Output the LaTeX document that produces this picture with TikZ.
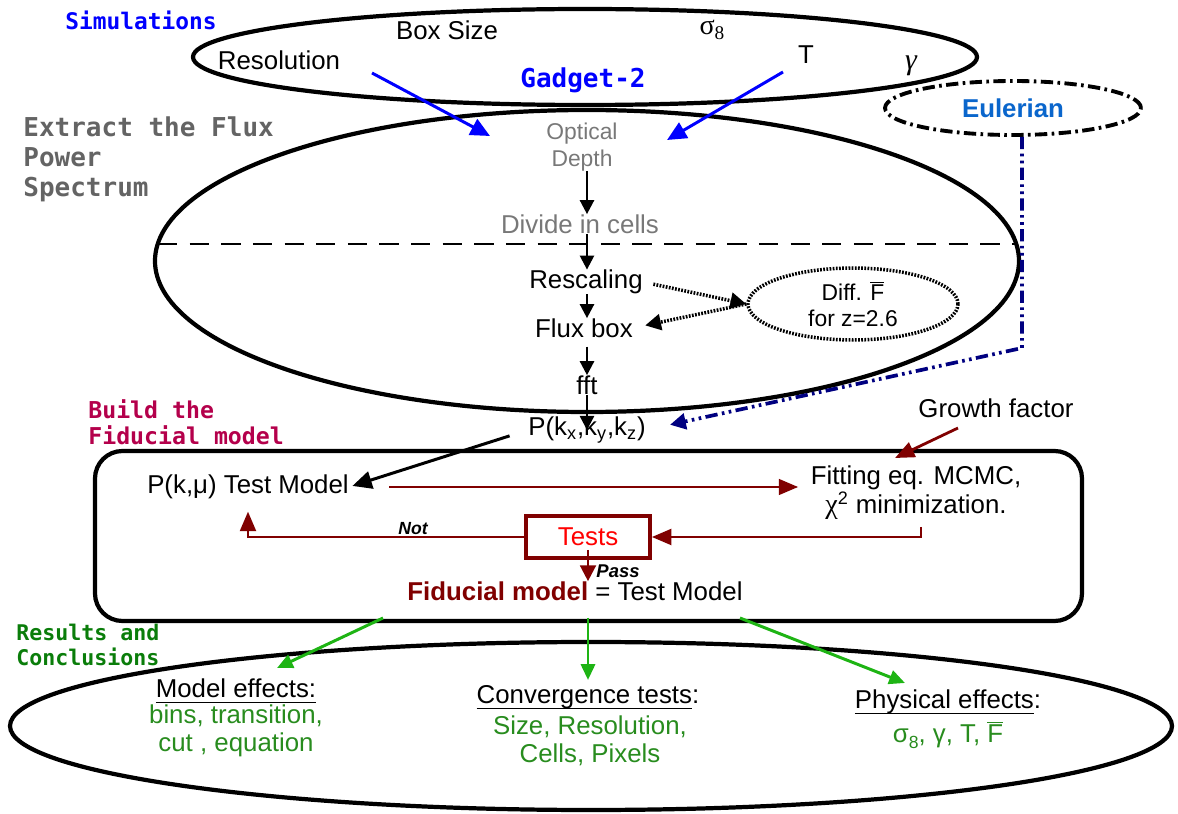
\documentclass[tikz,border=0pt]{standalone}
\usepackage{fontspec}
\setmainfont{Liberation Sans}
\setmonofont{DejaVu Sans Mono}
\newfontfamily\greekserif{Liberation Serif}
\usetikzlibrary{arrows.meta,shapes.geometric}
\definecolor{simblue}{RGB}{0,0,255}
\definecolor{eulblue}{RGB}{10,102,204}
\definecolor{navyline}{RGB}{0,0,128}
\definecolor{darkred}{RGB}{128,0,0}
\definecolor{crimsonlab}{RGB}{180,0,75}
\definecolor{greylab}{RGB}{100,100,100}
\definecolor{midgrey}{RGB}{120,120,120}
\definecolor{resgreen}{RGB}{10,125,10}
\definecolor{txtgreen}{RGB}{40,140,30}
\definecolor{arrgreen}{RGB}{30,180,20}
\newcommand{\Fbar}{$\overline{\hbox{F}}$}
\newcommand{\bigtxt}{\fontsize{14.7}{17}\selectfont}
\newcommand{\smtxt}{\fontsize{13}{15}\selectfont}
\newcommand{\stagefont}[1]{\fontsize{#1}{14.7}\selectfont\ttfamily\bfseries}
\newcommand{\ultext}[1]{\setbox0\hbox{#1}\rlap{\rule[-3.2pt]{\wd0}{0.7pt}}\box0}

\tikzset{
  txt/.style={font=\bigtxt, inner sep=0pt, align=center},
  smalltxt/.style={font=\smtxt, inner sep=0pt, align=center},
  stage/.style={inner sep=0pt, align=left, anchor=west},
  ring/.style={line width=2.4pt},
  bluearr/.style={-{Triangle[length=11pt,width=10pt]}, simblue, line width=1.7pt},
  flowarr/.style={-{Triangle[length=8pt,width=8pt]}, line width=1.4pt},
  dotarr/.style={-{Triangle[length=9pt,width=9pt]}, line width=2pt, dash pattern=on 1pt off 0.8pt},
  redarr/.style={-{Triangle[length=11pt,width=9pt]}, darkred, line width=1.2pt},
  greenarr/.style={-{Triangle[length=9pt,width=8pt]}, arrgreen, line width=1.7pt},
  navyarr/.style={-{Triangle[length=9pt,width=9pt]}, navyline, line width=2.1pt,
    dash pattern=on 7pt off 2.5pt on 1.5pt off 2.5pt on 1.5pt off 2.5pt}
}

\begin{document}
\begin{tikzpicture}[x=0.02cm,y=-0.02cm]
\useasboundingbox (0,0) rectangle (1178,814);

\draw[ring] (585,57) ellipse [x radius=392, y radius=48];
\draw[ring] (587,261) ellipse [x radius=432, y radius=151];
\draw[ring] (591,726) ellipse [x radius=581, y radius=84];
\draw[ring, rounded corners=0.55cm] (95,451) rectangle (1082,621);
\draw[dash pattern=on 11pt off 7pt, line width=0.9pt] (158,244) -- (1017,244);

\node[stage, simblue, font=\stagefont{13}] (simlab) at (65,20) {Simulations};
\node[stage, greylab, font=\fontsize{14.8}{17}\selectfont\ttfamily\bfseries] (extractlab) at (23,159) {Extract the Flux\\Power\\Spectrum};
\node[stage, crimsonlab, font=\stagefont{13.2}] (buildlab) at (88,422) {Build the\\Fiducial model};
\node[stage, resgreen, font=\stagefont{12.3}] (reslab) at (16,645) {Results and\\Conclusions};

\node[txt] (boxsize) at (447,30) {Box Size};
\node[txt] (resol) at (279,60) {Resolution};
\node[txt, font=\fontsize{16}{17}\selectfont\greekserif] (sigma) at (712,30) {σ\raisebox{-0.45ex}{\fontsize{11}{11}\selectfont 8}};
\node[txt] (temp) at (806,55) {T};
\node[txt, font=\fontsize{17}{17}\selectfont\greekserif\itshape] (gamma) at (911,66) {γ};
\node[txt, simblue, font=\fontsize{14.8}{17}\selectfont\ttfamily\bfseries] (gadget) at (583,80) {Gadget-2};

\node[smalltxt, midgrey] (optical) at (582,147) {Optical\\Depth};
\node[txt, midgrey] (divide) at (580,224) {Divide in cells};
\node[txt] (resc) at (586,282) {Rescaling};
\node[txt] (flux) at (584,328) {Flux box};
\node[txt] (fft) at (587,385) {fft};
\node[txt] (pk) at (587,430) {P(k\textsubscript{x},k\textsubscript{y},k\textsubscript{z})};
\node[smalltxt, ellipse, draw, line width=2pt, dash pattern=on 1pt off 0.8pt,
  minimum width=4.2cm, minimum height=1.44cm] (diff) at (853,304) {Diff. \Fbar\\for z=2.6};
\node[txt, eulblue, font=\bigtxt\bfseries, ellipse, draw=black, line width=2.2pt,
  dash pattern=on 7pt off 2.5pt on 1.5pt off 2.5pt, minimum width=5.12cm, minimum height=1.08cm] (eul) at (1013,108) {Eulerian};

\node[txt] (growth) at (996,408) {Growth factor};
\node[txt] (testm) at (248,487) {P(k,μ) Test Model};
\node[txt, font=\fontsize{14.7}{16.4}\selectfont] (fit) at (916,493) {Fitting eq. MCMC,\\{\greekserif\fontsize{16}{16}\selectfont χ}\textsuperscript{2} minimization.};
\node[txt, red, draw=darkred, line width=2.2pt, minimum width=2.48cm, minimum height=0.84cm] (tests) at (588,537) {Tests};
\node[inner sep=0pt, font=\fontsize{10}{12}\selectfont\bfseries\itshape] (notlbl) at (413,529) {Not};
\node[inner sep=0pt, font=\fontsize{10.5}{12}\selectfont\bfseries\itshape] (passlbl) at (618,571) {Pass};
\node[txt] (fid) at (575,591) {\textcolor{darkred}{\bfseries Fiducial model} = Test Model};

\node[txt] (modeff) at (236,691) {\ultext{Model effects:}};
\node[txt, txtgreen, font=\fontsize{14.7}{15.9}\selectfont] (modlist) at (236,731) {bins, transition,\\cut , equation};
\node[txt] (conv) at (588,697) {\ultext{Convergence tests}:};
\node[txt, txtgreen, font=\fontsize{14.7}{15.9}\selectfont] (convlist) at (590,741) {Size, Resolution,\\Cells, Pixels};
\node[txt] (phys) at (948,702) {\ultext{Physical effects}:};
\node[txt, txtgreen] (physlist) at (948,735) {σ\raisebox{-0.45ex}{\fontsize{10}{10}\selectfont 8}, γ, T, \Fbar};

\coordinate (resfoot) at (372,73);
\coordinate (optleft) at (490,136);
\coordinate (tfoot) at (783,72);
\coordinate (optright) at (667,140);
\coordinate (bend) at (1022,348);
\coordinate (growthfoot) at (958,428);
\coordinate (fittop) at (895,458);
\coordinate (fitfoot) at (921,527);
\coordinate (gleft) at (383,618);
\coordinate (gmid) at (588,618);
\coordinate (gright) at (740,618);
\coordinate (modtop) at (277,668);
\coordinate (convtop) at (588,680);
\coordinate (phystop) at (905,683);

\draw[bluearr] (resfoot) -- (optleft);
\draw[bluearr] (tfoot) -- (optright);

\draw[flowarr] (optical.south -| fft) -- (divide.north -| fft);
\draw[flowarr] (divide.south -| fft) -- (resc.north -| fft);
\draw[flowarr] (resc.south -| fft) -- (flux.north -| fft);
\draw[flowarr, shorten <=5pt] (flux.south -| fft) -- (fft.north);
\draw[flowarr] (fft.south) -- (pk.center);

\draw[dotarr, shorten <=6pt] (resc.east) -- (diff.west);
\draw[dotarr, shorten >=7pt] (diff.west) -- (flux.east);

\draw[navyarr, shorten >=14pt] (eul.south -| bend) -- (bend) -- (pk.east);

\draw[flowarr, line width=1.7pt, -{Triangle[length=11pt,width=10pt]}, shorten <=11pt, shorten >=2pt] (pk.west) -- (testm.east);
\draw[redarr, shorten <=23pt, shorten >=7pt] (testm.east) -- (testm.east -| fit.west);
\draw[redarr, line width=1.6pt] (growthfoot) -- (fittop);
\draw[redarr, line width=1.4pt] (fitfoot) |- (tests.east);
\draw[redarr, line width=1.4pt, shorten >=7pt] (tests.west) -| (testm.south);
\draw[redarr, line width=1.4pt, -{Triangle[length=9pt,width=9pt]}] ([yshift=0.2cm]tests.south) -- (fid.north -| tests);

\draw[greenarr] (gleft) -- (modtop);
\draw[greenarr] (gmid) -- (convtop);
\draw[greenarr] (gright) -- (phystop);
\end{tikzpicture}
\end{document}
